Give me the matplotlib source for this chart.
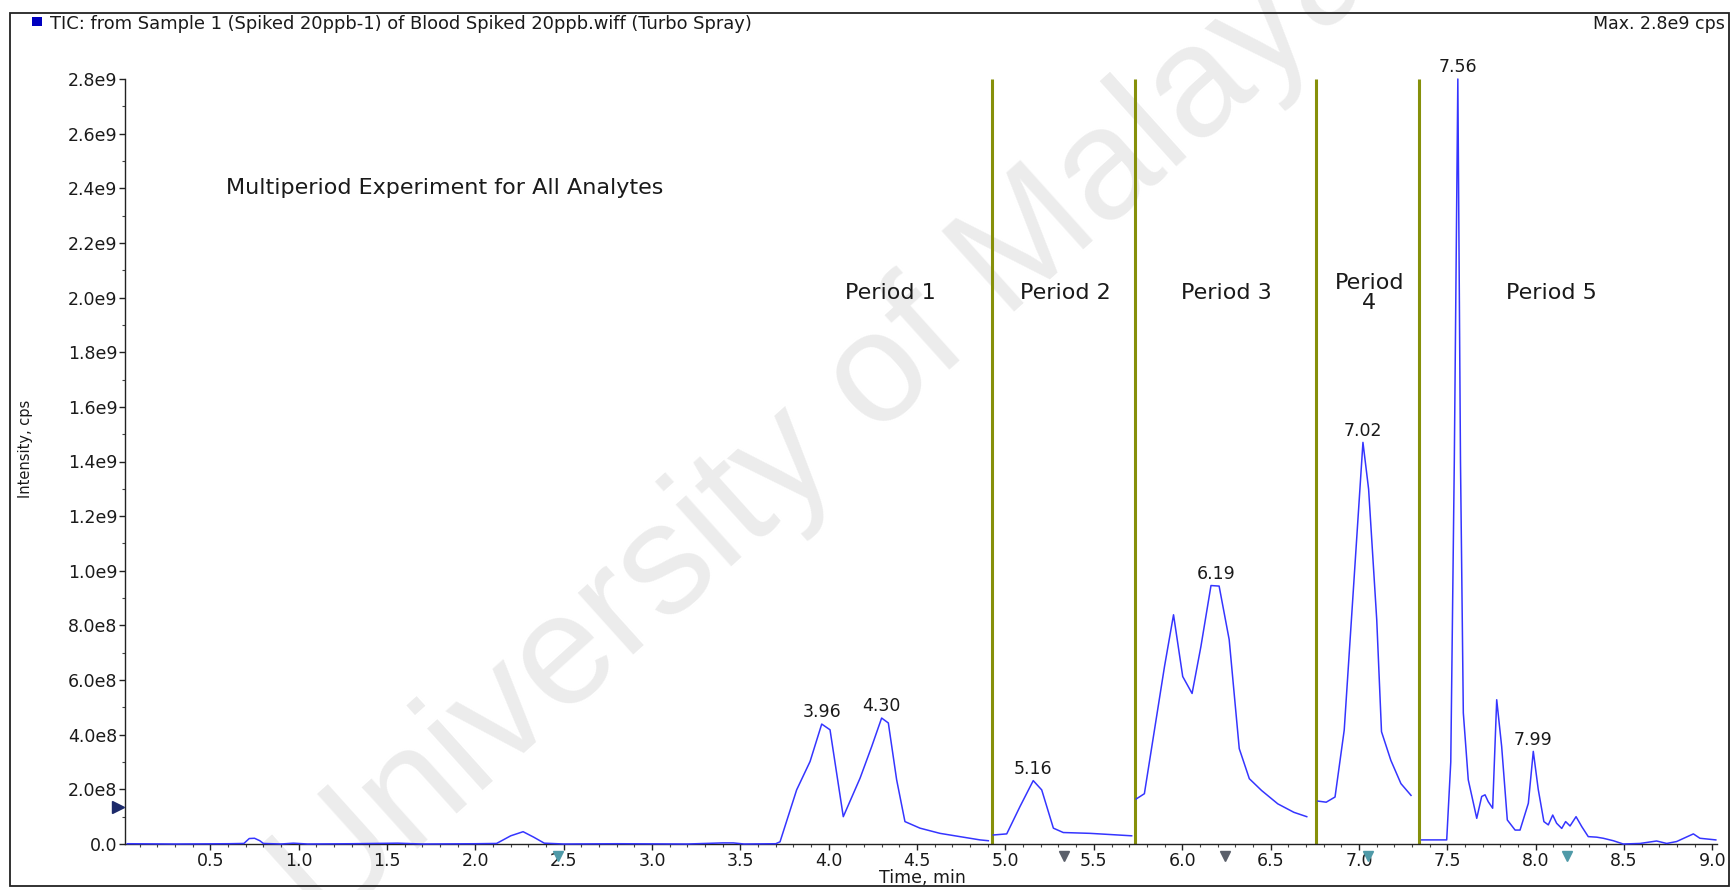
import numpy as np
import matplotlib
matplotlib.use("Agg")
import matplotlib.pyplot as plt
from matplotlib.patches import Rectangle
from matplotlib.ticker import MultipleLocator

# ---------------- data ----------------
# baseline region before period 1 (time, min ; intensity in 1e8 cps)
t_pre = [0.03, 0.30, 0.60, 0.69, 0.72, 0.75, 0.78, 0.80, 0.90, 0.97, 1.05, 1.30, 1.56, 1.70,
         2.00, 2.12, 2.20, 2.27, 2.33, 2.39, 2.50, 2.80, 3.20, 3.40, 3.46, 3.52, 3.70]
i_pre = [0.01, 0.00, 0.01, 0.02, 0.20, 0.21, 0.12, 0.02, 0.00, 0.03, 0.00, 0.01, 0.03, 0.00,
         0.01, 0.02, 0.30, 0.45, 0.25, 0.03, 0.00, 0.01, 0.00, 0.04, 0.04, 0.00, 0.01]

t_p1 = [3.724, 3.818, 3.894, 3.960, 4.007, 4.082, 4.177, 4.243, 4.299, 4.337, 4.384, 4.431,
        4.516, 4.629, 4.742, 4.856, 4.903]
i_p1 = [0.08, 1.98, 3.02, 4.39, 4.18, 1.00, 2.41, 3.57, 4.61, 4.43, 2.35, 0.82,
        0.58, 0.39, 0.27, 0.15, 0.12]

t_p2 = [4.931, 5.007, 5.082, 5.157, 5.205, 5.271, 5.327, 5.478, 5.610, 5.714]
i_p2 = [0.33, 0.37, 1.37, 2.32, 1.98, 0.58, 0.42, 0.39, 0.34, 0.30]

t_p3 = [5.740, 5.786, 5.843, 5.900, 5.951, 6.003, 6.056, 6.106, 6.163, 6.209, 6.266, 6.323,
        6.380, 6.449, 6.541, 6.632, 6.705]
i_p3 = [1.65, 1.84, 4.17, 6.50, 8.39, 6.13, 5.51, 7.23, 9.46, 9.44, 7.48, 3.49,
        2.39, 1.96, 1.47, 1.16, 1.00]

t_p4 = [6.769, 6.815, 6.865, 6.917, 6.975, 7.023, 7.055, 7.101, 7.128, 7.181, 7.238, 7.295]
i_p4 = [1.57, 1.53, 1.72, 4.17, 9.93, 14.70, 12.99, 8.21, 4.11, 3.06, 2.21, 1.78]

t_p5 = [7.355, 7.497, 7.520, 7.540, 7.560, 7.575, 7.591, 7.619, 7.667, 7.695, 7.714, 7.732,
        7.757, 7.780, 7.808, 7.840, 7.884, 7.912, 7.959, 7.987, 8.015, 8.047, 8.072, 8.097,
        8.119, 8.148, 8.170, 8.195, 8.229, 8.261, 8.298, 8.346, 8.383, 8.440, 8.496, 8.591,
        8.685, 8.742, 8.798, 8.893, 8.930, 9.020]
i_p5 = [0.15, 0.15, 3.00, 14.0, 28.0, 14.0, 4.80, 2.35, 0.94, 1.74, 1.80, 1.55,
        1.31, 5.28, 3.57, 0.88, 0.51, 0.51, 1.49, 3.39, 2.00, 0.82, 0.70, 1.06,
        0.76, 0.57, 0.82, 0.66, 1.00, 0.64, 0.27, 0.25, 0.21, 0.12, 0.00, 0.02,
        0.11, 0.02, 0.09, 0.37, 0.21, 0.15]

segments = [(t_pre + t_p1, i_pre + i_p1), (t_p2, i_p2), (t_p3, i_p3), (t_p4, i_p4), (t_p5, i_p5)]

period_bounds = [4.922, 5.733, 6.758, 7.341]
period_labels = ["Period 1", "Period 2", "Period 3", "Period\n4", "Period 5"]
period_label_t = [4.35, 5.34, 6.25, 7.06, 8.09]

peak_t = [3.960, 4.299, 5.157, 6.190, 7.023, 7.560, 7.987]
peak_i = [4.39, 4.61, 2.32, 9.46, 14.70, 28.0, 3.39]
peak_text = ["3.96", "4.30", "5.16", "6.19", "7.02", "7.56", "7.99"]

xtick_vals = [0.5, 1.0, 1.5, 2.0, 2.5, 3.0, 3.5, 4.0, 4.5, 5.0, 5.5, 6.0, 6.5, 7.0, 7.5, 8.0, 8.5, 9.0]
xtick_labels = ["0.5", "1.0", "1.5", "2.0", "2.5", "3.0", "3.5", "4.0", "4.5", "5.0", "5.5",
                "6.0", "6.5", "7.0", "7.5", "8.0", "8.5", "9.0"]
ytick_vals = [0.0, 2.0e8, 4.0e8, 6.0e8, 8.0e8, 1.0e9, 1.2e9, 1.4e9, 1.6e9, 1.8e9, 2.0e9,
              2.2e9, 2.4e9, 2.6e9, 2.8e9]
ytick_labels = ["0.0", "2.0e8", "4.0e8", "6.0e8", "8.0e8", "1.0e9", "1.2e9", "1.4e9", "1.6e9",
                "1.8e9", "2.0e9", "2.2e9", "2.4e9", "2.6e9", "2.8e9"]

marker_t = [2.47, 5.33, 6.24, 7.05, 8.18]
marker_c = ["#4f9aa8", "#5a5f6a", "#5a5f6a", "#4f9aa8", "#4f9aa8"]

header_text = "TIC: from Sample 1 (Spiked 20ppb-1) of Blood Spiked 20ppb.wiff (Turbo Spray)"
max_text = "Max. 2.8e9 cps"
exp_text = "Multiperiod Experiment for All Analytes"

# ---------------- figure ----------------
W, H = 1733, 890
plt.rcParams['font.family'] = ['DejaVu Sans']
fig = plt.figure(figsize=(W / 100, H / 100), dpi=100)
fig.patch.set_facecolor("white")

# watermark
fig.text(828 / W, 1 - 425 / H, "University of Malaya", rotation=42, rotation_mode="anchor",
         ha="center", va="center", fontsize=114, color="#ececec",
         family=["Liberation Sans"], zorder=0)

ax = fig.add_axes([125 / W, 46 / H, (1716.7 - 125) / W, (844 - 79) / H])
ax.set_zorder(2)
ax.set_facecolor("none")
ax.set_xlim(0.017, 9.025)
ax.set_ylim(0, 2.8e9)

trace_color = "#3535ff"
for ts, vs in segments:
    ax.plot(ts, np.array(vs) * 1e8, color=trace_color, lw=1.1, clip_on=False, zorder=3)

ax.vlines(period_bounds, 0, 2.8e9, color="#86900a", lw=2.2, zorder=2)

for txt, tx in zip(period_labels, period_label_t):
    ax.text(tx, 2.015e9, txt, ha="center", va="center", fontsize=16, color="#1a1a1a",
            linespacing=1.0)

for tp, ip, txt in zip(peak_t, peak_i, peak_text):
    ax.annotate(txt, (tp, ip * 1e8), xytext=(0, 2), textcoords="offset points",
                ha="center", va="bottom", fontsize=12.5, color="#1a1a1a", annotation_clip=False)

ax.text(0.59, 2.4e9, exp_text, ha="left", va="center", fontsize=16, color="#1a1a1a")

# axes styling
for s in ["top", "right"]:
    ax.spines[s].set_visible(False)
for s in ["left", "bottom"]:
    ax.spines[s].set_color("#222222")
    ax.spines[s].set_linewidth(1.0)

ax.set_xticks(xtick_vals)
ax.set_xticklabels(xtick_labels)
ax.set_yticks(ytick_vals)
ax.set_yticklabels(ytick_labels)
ax.xaxis.set_minor_locator(MultipleLocator(0.1))
ax.yaxis.set_minor_locator(MultipleLocator(1e8))
ax.tick_params(axis="both", which="major", length=4, width=1.0, color="#222222",
               labelsize=12.5, labelcolor="#1a1a1a", pad=1.5)
ax.tick_params(axis="both", which="minor", length=2.2, width=0.8, color="#444444")

# small markers under the time axis
for tm, cm in zip(marker_t, marker_c):
    ax.plot([tm], [-0.016], marker="v", markersize=6.5, color=cm,
            transform=ax.get_xaxis_transform(), clip_on=False, zorder=4)
ax.plot([-0.0045], [1.36e8], marker=">", markersize=8, color="#1c2a6a",
        transform=ax.get_yaxis_transform(), clip_on=False, zorder=4)

# axis titles
fig.text(26 / W, 1 - 449 / H, "Intensity, cps", rotation=90, ha="center", va="center",
         fontsize=10.5, color="#1a1a1a")
fig.text(922 / W, 1 - 878 / H, "Time, min", ha="center", va="center", fontsize=12.5,
         color="#1a1a1a")

# header
fig.add_artist(Rectangle((32 / W, 1 - 26 / H), 10 / W, 9 / H, transform=fig.transFigure,
                         facecolor="#0000c0", edgecolor="none"))
fig.text(50 / W, 1 - 24 / H, header_text, ha="left", va="center", fontsize=12.9, color="#1a1a1a")
fig.text(1725 / W, 1 - 24 / H, max_text, ha="right", va="center", fontsize=12.5, color="#1a1a1a")

# outer frame
fig.add_artist(Rectangle((10 / W, 4 / H), (1729 - 10) / W, (877 - 4) / H, transform=fig.transFigure,
                         facecolor="none", edgecolor="#222222", lw=1.3))

fig.savefig("out.png", dpi=100, facecolor="white")
